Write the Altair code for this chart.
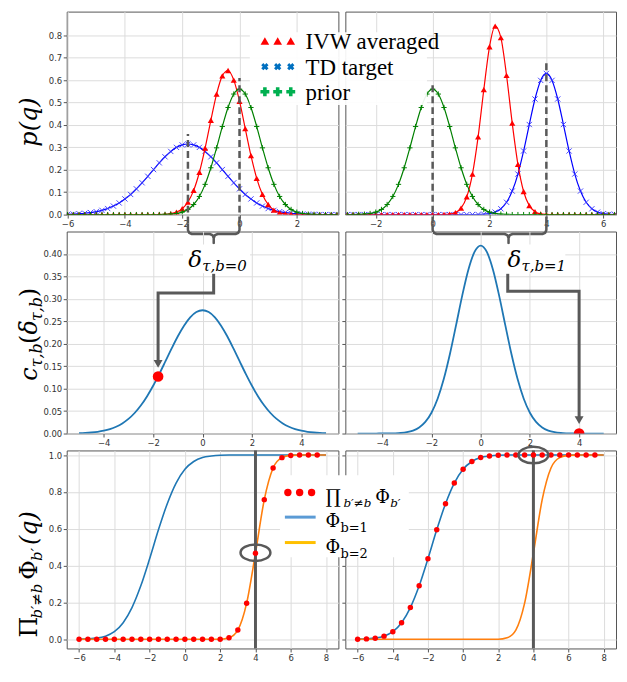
import altair as alt
import pandas as pd

# ================= data =================
# top row: densities p(q)
q_top_left = [-6.0, -5.8, -5.6, -5.4, -5.2, -5.0, -4.8, -4.6, -4.4, -4.2, -4.0, -3.8, -3.6, -3.4, -3.2,
              -3.0, -2.8, -2.6, -2.4, -2.2, -2.0, -1.8, -1.6, -1.4, -1.2, -1.0, -0.8, -0.6, -0.4, -0.2,
              0.0, 0.2, 0.4, 0.6, 0.8, 1.0, 1.2, 1.4, 1.6, 1.8, 2.0, 2.2, 2.4, 2.6, 2.8, 3.0, 3.2, 3.4]
td_target_left = [0.001, 0.002, 0.004, 0.006, 0.009, 0.013, 0.019, 0.027, 0.038, 0.052, 0.070, 0.090, 0.115, 0.142, 0.171,
                  0.201, 0.231, 0.258, 0.282, 0.300, 0.311, 0.315, 0.311, 0.300, 0.282, 0.258, 0.231, 0.201, 0.171, 0.142,
                  0.115, 0.090, 0.070, 0.052, 0.038, 0.027, 0.019, 0.013, 0.009, 0.006, 0.004, 0.002, 0.001, 0.001, 0.0, 0.0, 0.0, 0.0]
ivw_left = [0.0, 0.0, 0.0, 0.0, 0.0, 0.0, 0.0, 0.0, 0.0, 0.0, 0.0, 0.0, 0.0, 0.0, 0.0,
            0.0, 0.0004, 0.001, 0.004, 0.011, 0.026, 0.056, 0.108, 0.189, 0.297, 0.421, 0.538, 0.619, 0.643, 0.600,
            0.506, 0.384, 0.263, 0.162, 0.090, 0.045, 0.020, 0.008, 0.003, 0.001, 0.0, 0.0, 0.0, 0.0, 0.0, 0.0, 0.0, 0.0]
prior_left = [0.0, 0.0, 0.0, 0.0, 0.0, 0.0, 0.0, 0.0, 0.0, 0.0, 0.0, 0.0, 0.0, 0.0, 0.0,
              0.0, 0.0002, 0.001, 0.002, 0.005, 0.011, 0.023, 0.045, 0.081, 0.135, 0.209, 0.298, 0.393, 0.478, 0.538,
              0.560, 0.538, 0.478, 0.393, 0.298, 0.209, 0.135, 0.081, 0.045, 0.023, 0.011, 0.005, 0.002, 0.001, 0.0, 0.0, 0.0, 0.0]

q_top_right = [-3.0, -2.8, -2.6, -2.4, -2.2, -2.0, -1.8, -1.6, -1.4, -1.2, -1.0, -0.8, -0.6, -0.4, -0.2,
               0.0, 0.2, 0.4, 0.6, 0.8, 1.0, 1.2, 1.4, 1.6, 1.8, 2.0, 2.2, 2.4, 2.6, 2.8,
               3.0, 3.2, 3.4, 3.6, 3.8, 4.0, 4.2, 4.4, 4.6, 4.8, 5.0, 5.2, 5.4, 5.6, 5.8, 6.0, 6.2, 6.4]
prior_right = [0.0, 0.0002, 0.001, 0.002, 0.005, 0.011, 0.023, 0.045, 0.081, 0.135, 0.209, 0.298, 0.393, 0.478, 0.538,
               0.560, 0.538, 0.478, 0.393, 0.298, 0.209, 0.135, 0.081, 0.045, 0.023, 0.011, 0.005, 0.002, 0.001, 0.0,
               0.0, 0.0, 0.0, 0.0, 0.0, 0.0, 0.0, 0.0, 0.0, 0.0, 0.0, 0.0, 0.0, 0.0, 0.0, 0.0, 0.0, 0.0]
ivw_right = [0.0, 0.0, 0.0, 0.0, 0.0, 0.0, 0.0, 0.0, 0.0, 0.0, 0.0, 0.0, 0.0, 0.0, 0.0,
             0.0, 0.0, 0.0005, 0.002, 0.009, 0.029, 0.079, 0.181, 0.347, 0.558, 0.749, 0.841, 0.790, 0.621, 0.408,
             0.224, 0.103, 0.040, 0.013, 0.003, 0.001, 0.0, 0.0, 0.0, 0.0, 0.0, 0.0, 0.0, 0.0, 0.0, 0.0, 0.0, 0.0]
td_target_right = [0.0, 0.0, 0.0, 0.0, 0.0, 0.0, 0.0, 0.0, 0.0, 0.0, 0.0, 0.0, 0.0, 0.0, 0.0,
                   0.0, 0.0, 0.0, 0.0, 0.0, 0.0, 0.0, 0.0, 0.0005, 0.0015, 0.004, 0.011, 0.026, 0.055, 0.105,
                   0.181, 0.284, 0.402, 0.516, 0.599, 0.630, 0.599, 0.516, 0.402, 0.284, 0.181, 0.105, 0.055, 0.026,
                   0.011, 0.004, 0.0015, 0.0005]

# dashed markers (means) and their heights, brace cusp positions
dash_x_left = [-1.8, 0.0]
dash_top_left = [0.36, 0.61]
dash_x_right = [0.0, 4.0]
dash_top_right = [0.58, 0.68]
cusp_left = -0.9
cusp_right = 2.67
legend_top = ["IVW averaged", "TD target", "prior"]

# middle row: c_{tau,b}(delta)
q_mid = [-5.0, -4.75, -4.5, -4.25, -4.0, -3.75, -3.5, -3.25, -3.0, -2.75, -2.5, -2.25, -2.0, -1.75, -1.5,
         -1.25, -1.0, -0.75, -0.5, -0.25, 0.0, 0.25, 0.5, 0.75, 1.0, 1.25, 1.5, 1.75, 2.0, 2.25, 2.5,
         2.75, 3.0, 3.25, 3.5, 3.75, 4.0, 4.25, 4.5, 4.75, 5.0]
c_left = [0.0007, 0.0013, 0.0023, 0.0038, 0.0062, 0.0098, 0.0151, 0.0225, 0.0325, 0.0457, 0.0624, 0.0827,
          0.1064, 0.1329, 0.1611, 0.1896, 0.2167, 0.2403, 0.2588, 0.2706, 0.2746, 0.2706, 0.2588, 0.2403,
          0.2167, 0.1896, 0.1611, 0.1329, 0.1064, 0.0827, 0.0624, 0.0457, 0.0325, 0.0225, 0.0151, 0.0098,
          0.0062, 0.0038, 0.0023, 0.0013, 0.0007]
c_right = [0.0, 0.0, 0.0, 0.0, 0.0001, 0.0002, 0.0005, 0.0012, 0.0029, 0.0065, 0.0134, 0.0258, 0.0463,
           0.0775, 0.1213, 0.1771, 0.2414, 0.3072, 0.3649, 0.4045, 0.4187, 0.4045, 0.3649, 0.3072, 0.2414,
           0.1771, 0.1213, 0.0775, 0.0463, 0.0258, 0.0134, 0.0065, 0.0029, 0.0012, 0.0005, 0.0002, 0.0001,
           0.0, 0.0, 0.0, 0.0]
delta_left, c_at_delta_left = -1.8, 0.127
delta_right, c_at_delta_right = 4.0, 0.0

# bottom row: CDFs
q_bot = [-6.0, -5.5, -5.0, -4.5, -4.0, -3.5, -3.0, -2.5, -2.0, -1.5, -1.0, -0.5, 0.0, 0.5, 1.0,
         1.5, 2.0, 2.5, 3.0, 3.5, 4.0, 4.5, 5.0, 5.5, 6.0, 6.5, 7.0, 7.5, 8.0]
phi_b1 = [0.0005, 0.002, 0.006, 0.017, 0.041, 0.090, 0.172, 0.290, 0.437, 0.594, 0.736, 0.848, 0.923,
          0.965, 0.987, 0.995, 0.999, 1.0, 1.0, 1.0, 1.0, 1.0, 1.0, 1.0, 1.0, 1.0, 1.0, 1.0, 1.0]
phi_b2 = [0.0, 0.0, 0.0, 0.0, 0.0, 0.0, 0.0, 0.0, 0.0, 0.0, 0.0, 0.0, 0.0, 0.0, 0.0, 0.0, 0.0,
          0.008, 0.05, 0.196, 0.467, 0.758, 0.93, 0.986, 0.998, 1.0, 1.0, 1.0, 1.0]
q_star = 4.0
prod_at_qstar = [0.47, 1.0]

# ================= styling =================
SPINE = "#555555"
GRID = "#dcdcdc"
ANN = "#595959"
SERIF = "DejaVu Serif"
TIMES = "Liberation Serif, Times New Roman, Times, serif"
XPATH = "M-1,-1L1,1M-1,1L1,-1"
PPATH = "M-1,0L1,0M0,-1L0,1"
ELLIPSE = "M-1,0A1,0.55,0,1,1,1,0A1,0.55,0,1,1,-1,0Z"

W_L, W_R = 273, 272
H1, H2, H3 = 204, 203, 199


def make_xy(xdom, ydom, xvals, yvals, xfmt, yfmt, ylab=True, ytick=True):
    common = dict(title=None, grid=True, domain=False, gridColor=GRID, gridWidth=1,
                  tickColor=SPINE, tickSize=3.5, tickWidth=1, labelColor="#333333",
                  labelFont="DejaVu Sans", labelFontSize=8.5, labelPadding=1.5,
                  labelFlush=False, labelOverlap=False)
    X = alt.X("x:Q", scale=alt.Scale(domain=xdom, nice=False, zero=False),
              axis=alt.Axis(values=xvals, format=xfmt, **common))
    Y = alt.Y("y:Q", scale=alt.Scale(domain=ydom, nice=False, zero=False),
              axis=alt.Axis(values=yvals, format=yfmt, labels=ylab, ticks=ytick, **common))
    return X, Y


def df_xy(xs, ys):
    return pd.DataFrame({"x": xs, "y": ys})


ONE = pd.DataFrame({"a": [0]})


def pix_text(px, py, txt, size, dx=0, dy=0, italic=False, angle=0, align="left", font=SERIF):
    kw = dict(font=font, fontSize=size, align=align, baseline="alphabetic", dx=dx, dy=dy,
              color="black", angle=angle)
    if italic:
        kw["fontStyle"] = "italic"
    return alt.Chart(ONE).mark_text(**kw).encode(x=alt.value(px), y=alt.value(py), text=alt.value(txt))


def data_text(X, Y, x, y, txt, size, dx=0, dy=0, italic=False, font=SERIF, baseline="alphabetic"):
    kw = dict(font=font, fontSize=size, align="left", baseline=baseline, dx=dx, dy=dy, color="black")
    if italic:
        kw["fontStyle"] = "italic"
    return alt.Chart(pd.DataFrame({"x": [x], "y": [y], "t": [txt]})).mark_text(**kw).encode(
        x=X, y=Y, text="t:N")


def brace_df(x1, x2, xm, sx, ky):
    pts = [(x1, 0, 9), (x1, 0, 15.5), (x1, 1.2, 18.3), (x1, 4, 19.5), (xm, -4, 19.5), (xm, -1.2, 20.7),
           (xm, 0, 23.5), (xm, 0, 28.5), (xm, 0, 23.5), (xm, 1.2, 20.7), (xm, 4, 19.5), (x2, -4, 19.5),
           (x2, -1.2, 18.3), (x2, 0, 15.5), (x2, 0, 9)]
    return pd.DataFrame({"x": [p[0] + p[1] * sx for p in pts],
                         "y": [-p[2] * ky for p in pts],
                         "o": list(range(len(pts)))})


def top_panel(qs, td, ivw, prior, xdom, xvals, dash_x, dash_top, cusp, ylab):
    ydom = [0, 0.906]
    X, Y = make_xy(xdom, ydom, xvals, [0, 0.1, 0.2, 0.3, 0.4, 0.5, 0.6, 0.7, 0.8], "d", ".1f",
                   ylab=ylab, ytick=ylab)
    sx = (xdom[1] - xdom[0]) / (W_L if ylab else W_R)
    ky = (ydom[1] - ydom[0]) / H1
    layers = [
        alt.Chart(df_xy(qs, td)).mark_line(color="#0000ff", strokeWidth=1.2, interpolate="monotone", clip=True).encode(x=X, y=Y),
        alt.Chart(df_xy(qs, td)).mark_point(shape=XPATH, filled=False, color="#3333ff", strokeWidth=0.9,
                                            size=28, opacity=1, clip=True).encode(x=X, y=Y),
        alt.Chart(df_xy(qs, ivw)).mark_line(color="#ff0000", strokeWidth=1.2, interpolate="monotone", clip=True).encode(x=X, y=Y),
        alt.Chart(df_xy(qs, ivw)).mark_point(shape="triangle-up", filled=True, color="#ff0000",
                                             size=38, opacity=1, clip=True).encode(x=X, y=Y),
        alt.Chart(df_xy(qs, prior)).mark_line(color="#008000", strokeWidth=1.2, interpolate="monotone", clip=True).encode(x=X, y=Y),
        alt.Chart(df_xy(qs, prior)).mark_point(shape=PPATH, filled=False, color="#008000", strokeWidth=1,
                                               size=28, opacity=1, clip=True).encode(x=X, y=Y),
        alt.Chart(pd.DataFrame({"x": dash_x, "y": [-9 * ky, -9 * ky], "y2": dash_top})).mark_rule(
            color=ANN, strokeWidth=2.5, strokeDash=[7, 4]).encode(x=X, y=Y, y2="y2:Q"),
        alt.Chart(brace_df(dash_x[0], dash_x[1], cusp, sx, ky)).mark_line(
            color=ANN, strokeWidth=2.5, strokeJoin="round").encode(x=X, y=Y, order="o:Q"),
    ]
    return X, Y, layers


# ---------- top-left ----------
X, Y, tl = top_panel(q_top_left, td_target_left, ivw_left, prior_left, [-6.03, 3.45],
                     [-6, -4, -2, 0, 2], dash_x_left, dash_top_left, cusp_left, True)
tl.append(pix_text(-30, 111, "p(q)", 24, italic=True, angle=270, align="center"))
TL = alt.layer(*tl).properties(width=W_L, height=H1)

# ---------- top-right (with legend) ----------
X, Y, tr = top_panel(q_top_right, td_target_right, ivw_right, prior_right, [-3.07, 6.45],
                     [-2, 0, 2, 4, 6], dash_x_right, dash_top_right, cusp_right, False)
leg_y = [0.775, 0.66, 0.548]
tr.append(alt.Chart(pd.DataFrame({"x": [-6.43], "x2": [-0.2], "y": [0.489], "y2": [0.814]})).mark_rect(
    color="white", opacity=0.92).encode(x=X, x2="x2:Q", y=Y, y2="y2:Q"))
mk_x = [-5.90, -5.45, -4.99]
tr.append(alt.Chart(df_xy(mk_x, [leg_y[0]] * 3)).mark_point(shape="triangle-up", filled=True, color="#ff0000",
                                                           size=75, opacity=1).encode(x=X, y=Y))
tr.append(alt.Chart(df_xy(mk_x, [leg_y[1]] * 3)).mark_point(shape="cross", angle=45, filled=True, color="#0070c0",
                                                           size=55, opacity=1).encode(x=X, y=Y))
tr.append(alt.Chart(df_xy(mk_x, [leg_y[2]] * 3)).mark_point(shape="cross", filled=True, color="#00b050",
                                                           size=80, opacity=1).encode(x=X, y=Y))
for t, yv in zip(legend_top, leg_y):
    tr.append(data_text(X, Y, -4.47, yv, t, 23, font=TIMES, baseline="middle", dy=1))
TR = alt.layer(*tr).properties(width=W_R, height=H1)

# ---------- middle-left ----------
X, Y = make_xy([-5.5, 5.5], [0, 0.45], [-4, -2, 0, 2, 4],
               [0, 0.05, 0.1, 0.15, 0.2, 0.25, 0.3, 0.35, 0.4], "d", ".2f")
ml = [
    alt.Chart(df_xy(q_mid, c_left)).mark_line(color="#1f77b4", strokeWidth=1.8, interpolate="monotone", clip=True).encode(x=X, y=Y),
    alt.Chart(df_xy([delta_left], [c_at_delta_left])).mark_point(filled=True, color="#ff0000", size=115, opacity=1).encode(x=X, y=Y),
    alt.Chart(pd.DataFrame({"x": [0.45, 0.45, delta_left, delta_left], "y": [0.356, 0.313, 0.313, 0.16],
                            "o": [0, 1, 2, 3]})).mark_line(color=ANN, strokeWidth=3).encode(x=X, y=Y, order="o:Q"),
    alt.Chart(df_xy([delta_left], [0.155])).mark_point(shape="triangle-down", filled=True, color=ANN, size=80,
                                                       opacity=1).encode(x=X, y=Y),
    alt.Chart(pd.DataFrame({"x": [-0.79], "x2": [1.92], "y": [0.357], "y2": [0.421]})).mark_rect(
        color="white").encode(x=X, x2="x2:Q", y=Y, y2="y2:Q"),
    data_text(X, Y, -0.58, 0.372, "δ", 23, italic=True),
    data_text(X, Y, -0.58, 0.372, "τ,b=0", 15, dx=14, dy=4, italic=True),
]
c_pieces = [("c", 24, True, 0, 0), ("τ,b", 16, True, 13.5, 5), ("(", 24, False, 37, 0),
            ("δ", 24, True, 46.5, 0), ("τ,b", 16, True, 60, 5), (")", 24, False, 84, 0)]
for t, s, it, dx, dy in c_pieces:
    ml.append(pix_text(-30, 150, t, s, dx=dx, dy=dy, italic=it, angle=270))
ML = alt.layer(*ml).properties(width=W_L, height=H2)

# ---------- middle-right ----------
X, Y = make_xy([-5.5, 5.5], [0, 0.45], [-4, -2, 0, 2, 4],
               [0, 0.05, 0.1, 0.15, 0.2, 0.25, 0.3, 0.35, 0.4], "d", ".2f", ylab=False)
mr = [
    alt.Chart(df_xy(q_mid, c_right)).mark_line(color="#1f77b4", strokeWidth=1.8, interpolate="monotone", clip=True).encode(x=X, y=Y),
    alt.Chart(df_xy([delta_right], [c_at_delta_right])).mark_point(filled=True, color="#ff0000", size=115, opacity=1,
                                                                   clip=True).encode(x=X, y=Y),
    alt.Chart(pd.DataFrame({"x": [1.1, 1.1, delta_right, delta_right], "y": [0.356, 0.317, 0.317, 0.035],
                            "o": [0, 1, 2, 3]})).mark_line(color=ANN, strokeWidth=3).encode(x=X, y=Y, order="o:Q"),
    alt.Chart(df_xy([delta_right], [0.03])).mark_point(shape="triangle-down", filled=True, color=ANN, size=80,
                                                       opacity=1).encode(x=X, y=Y),
    alt.Chart(pd.DataFrame({"x": [1.0], "x2": [3.44], "y": [0.357], "y2": [0.421]})).mark_rect(
        color="white").encode(x=X, x2="x2:Q", y=Y, y2="y2:Q"),
    data_text(X, Y, 1.09, 0.372, "δ", 23, italic=True),
    data_text(X, Y, 1.09, 0.372, "τ,b=1", 15, dx=14, dy=4, italic=True),
]
MR = alt.layer(*mr).properties(width=W_R, height=H2)

# ---------- bottom panels ----------
bdom_x, bdom_y = [-6.7, 8.7], [-0.05, 1.025]
prod_left = phi_b2[:-1]    # product over b' != b (b = 1): only Phi_{b=2}
prod_right = phi_b1[:-1]   # product over b' != b (b = 2): only Phi_{b=1}


def bottom_panel(prod, mark_y, ylab):
    X, Y = make_xy(bdom_x, bdom_y, [-6, -4, -2, 0, 2, 4, 6, 8], [0, 0.2, 0.4, 0.6, 0.8, 1.0], "d", ".1f",
                   ylab=ylab)
    layers = [
        alt.Chart(df_xy(q_bot, phi_b1)).mark_line(color="#1f77b4", strokeWidth=1.6, interpolate="monotone", clip=True).encode(x=X, y=Y),
        alt.Chart(df_xy(q_bot, phi_b2)).mark_line(color="#ff7f0e", strokeWidth=1.6, interpolate="monotone", clip=True).encode(x=X, y=Y),
        alt.Chart(pd.DataFrame({"x": [q_star]})).mark_rule(color=ANN, strokeWidth=3).encode(x=X),
        alt.Chart(df_xy(q_bot[:-1], prod)).mark_point(filled=True, color="#ff0000", size=30, opacity=1,
                                                     clip=True).encode(x=X, y=Y),
        alt.Chart(df_xy([q_star], [mark_y])).mark_point(shape=ELLIPSE, filled=False, color=ANN, strokeWidth=2.5,
                                                        size=900, opacity=1).encode(x=X, y=Y),
    ]
    return X, Y, layers


X, Y, bl = bottom_panel(prod_left, prod_at_qstar[0], True)
pi_pieces = [("Π", 24, False, 0, 0), ("b′≠b", 15, True, 19, 5), ("Φ", 24, False, 58, 0),
             ("b′", 15, True, 77, 5), ("(q)", 24, True, 93, 0)]
for t, s, it, dx, dy in pi_pieces:
    bl.append(pix_text(-30, 188, t, s, dx=dx, dy=dy, italic=it, angle=270))
BL = alt.layer(*bl).properties(width=W_L, height=H3)

X, Y, br = bottom_panel(prod_right, prod_at_qstar[1], False)
br.append(alt.Chart(pd.DataFrame({"x": [-10.42], "x2": [-3.09], "y": [0.445], "y2": [0.89]})).mark_rect(
    color="white").encode(x=X, x2="x2:Q", y=Y, y2="y2:Q"))
br.append(alt.Chart(df_xy([-9.97, -9.30, -8.62], [0.797] * 3)).mark_point(
    filled=True, color="#ff0000", size=55, opacity=1).encode(x=X, y=Y))
br.append(alt.Chart(df_xy([-10.14, -8.39], [0.663, 0.663])).mark_line(color="#5b9bd5", strokeWidth=3).encode(x=X, y=Y))
br.append(alt.Chart(df_xy([-10.14, -8.39], [0.525, 0.525])).mark_line(color="#ffc000", strokeWidth=3).encode(x=X, y=Y))
br.append(data_text(X, Y, -7.83, 0.742, "∏", 19))
br.append(data_text(X, Y, -7.83, 0.742, "b′≠b", 12, dx=18, dy=4, italic=True))
br.append(data_text(X, Y, -7.83, 0.742, "Φ", 18, dx=50))
br.append(data_text(X, Y, -7.83, 0.742, "b′", 12, dx=65, dy=4, italic=True))
br.append(data_text(X, Y, -7.83, 0.607, "Φ", 18))
br.append(data_text(X, Y, -7.83, 0.607, "b=1", 13, dx=15, dy=5))
br.append(data_text(X, Y, -7.83, 0.47, "Φ", 18))
br.append(data_text(X, Y, -7.83, 0.47, "b=2", 13, dx=15, dy=5))
BR = alt.layer(*br).properties(width=W_R, height=H3)

chart = alt.concat(TL, TR, ML, MR, BL, BR, columns=2, spacing={"row": 17, "column": 7},
                   bounds="flush").properties(
    padding={"left": 9, "top": 1, "right": 2, "bottom": 2}
).configure_view(stroke=SPINE, strokeWidth=1)

chart.save("out.html", embed_options={"renderer": "svg", "actions": False})
